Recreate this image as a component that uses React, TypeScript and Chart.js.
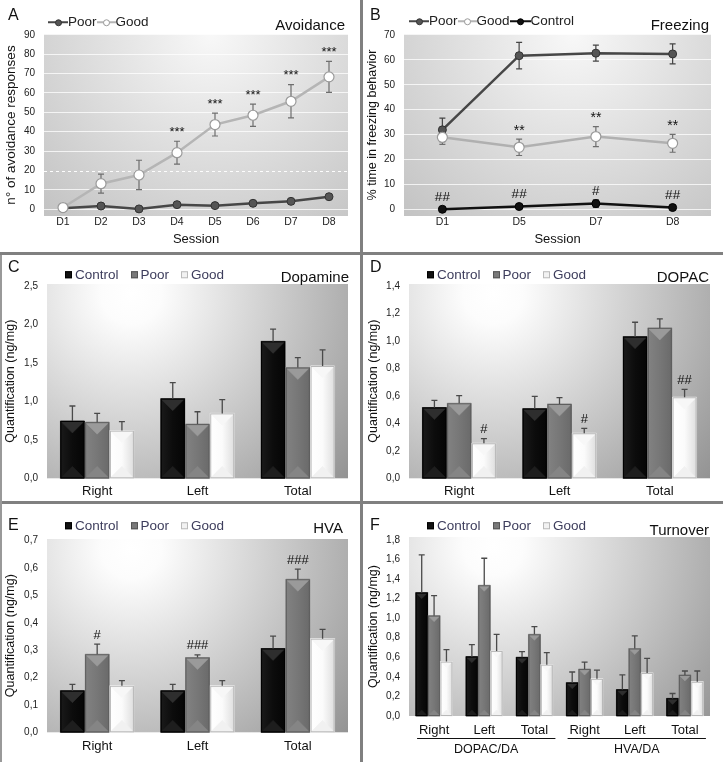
import React, { useEffect, useRef } from 'react';
import { Chart, registerables } from 'chart.js';

Chart.register(...registerables);

const FONT = '"Liberation Sans", Arial, Helvetica, sans-serif';
Chart.defaults.font.family = FONT;

// ---------- Panel A: Avoidance ----------
const avoidSessions = ['D1', 'D2', 'D3', 'D4', 'D5', 'D6', 'D7', 'D8'];
const avoidPoor = [0.5, 1.7, 0.2, 2.4, 1.9, 3.1, 4.1, 6.5];
const avoidPoorErr = [0.4, 0.6, 0.4, 0.7, 0.6, 0.8, 0.9, 1.0];
const avoidGood = [0.9, 13.2, 17.7, 29.2, 43.7, 48.5, 55.7, 68.3];
const avoidGoodErr = [0.6, 4.9, 7.6, 5.9, 5.9, 5.7, 8.6, 8.0];
const avoidGoodSig = ['', '', '', '***', '***', '***', '***', '***'];
const avoidTicks = [0, 10, 20, 30, 40, 50, 60, 70, 80, 90];
const avoidRefLine = 20;

// ---------- Panel B: Freezing ----------
const freezeSessions = ['D1', 'D5', 'D7', 'D8'];
const freezePoor = [31.9, 61.7, 62.7, 62.4];
const freezePoorErr = [4.7, 5.3, 3.2, 4.0];
const freezeGood = [28.9, 24.9, 29.2, 26.5];
const freezeGoodErr = [2.8, 3.3, 4.0, 3.6];
const freezeControl = [0, 1.1, 2.3, 0.7];
const freezeControlErr = [0.3, 0.5, 1.5, 0.4];
const freezeGoodSig = ['', '**', '**', '**'];
const freezeControlSig = ['##', '##', '#', '##'];
const freezeTicks = [0, 10, 20, 30, 40, 50, 60, 70];

// ---------- Bar panels ----------
const regions = ['Right', 'Left', 'Total'];

// C: Dopamine
const daControl = [0.745, 1.035, 1.78];
const daControlErr = [0.195, 0.21, 0.16];
const daPoor = [0.73, 0.705, 1.44];
const daPoorErr = [0.115, 0.16, 0.13];
const daGood = [0.62, 0.844, 1.46];
const daGoodErr = [0.116, 0.18, 0.21];
const daTicks = [0, 0.5, 1.0, 1.5, 2.0, 2.5];

// D: DOPAC
const dopacControl = [0.515, 0.507, 1.031];
const dopacControlErr = [0.053, 0.09, 0.105];
const dopacPoor = [0.546, 0.541, 1.095];
const dopacPoorErr = [0.056, 0.046, 0.065];
const dopacGood = [0.255, 0.328, 0.59];
const dopacGoodErr = [0.034, 0.036, 0.058];
const dopacGoodSig = ['#', '#', '##'];
const dopacTicks = [0, 0.2, 0.4, 0.6, 0.8, 1.0, 1.2, 1.4];

// E: HVA
const hvaControl = [0.152, 0.152, 0.306];
const hvaControlErr = [0.023, 0.023, 0.045];
const hvaPoor = [0.285, 0.273, 0.559];
const hvaPoorErr = [0.037, 0.01, 0.037];
const hvaGood = [0.17, 0.17, 0.342];
const hvaGoodErr = [0.019, 0.019, 0.034];
const hvaPoorSig = ['#', '###', '###'];
const hvaTicks = [0, 0.1, 0.2, 0.3, 0.4, 0.5, 0.6, 0.7];

// F: Turnover
const turnoverCats = ['Right', 'Left', 'Total', 'Right', 'Left', 'Total'];
const turnControl = [1.261, 0.607, 0.6, 0.34, 0.27, 0.18];
const turnControlErr = [0.386, 0.123, 0.058, 0.11, 0.15, 0.05];
const turnPoor = [1.026, 1.336, 0.835, 0.48, 0.69, 0.42];
const turnPoorErr = [0.205, 0.277, 0.079, 0.07, 0.13, 0.04];
const turnGood = [0.556, 0.665, 0.525, 0.38, 0.44, 0.35];
const turnGoodErr = [0.122, 0.17, 0.123, 0.09, 0.15, 0.11];
const turnoverGroups = ['DOPAC/DA', 'HVA/DA'];
const turnoverGroupSpans = [[0, 2], [3, 5]];
const turnTicks = [0, 0.2, 0.4, 0.6, 0.8, 1.0, 1.2, 1.4, 1.6, 1.8];

// ---------- Plugins ----------
const plotBgPlugin = {
  id: 'plotBg',
  beforeDraw(chart: any, _a: any, opts: any) {
    const { ctx, chartArea } = chart;
    if (!chartArea) return;
    const { left, top, right, bottom } = chartArea;
    const w = right - left;
    const h = bottom - top;
    const cx = left + opts.cx * w;
    const cy = top + opts.cy * h;
    const g = ctx.createRadialGradient(cx, cy, 0, cx, cy, opts.r * w);
    opts.stops.forEach((s: any) => g.addColorStop(s[0], s[1]));
    ctx.save();
    ctx.fillStyle = g;
    ctx.fillRect(left, top, w, h);
    ctx.restore();
  },
};

const refLinePlugin = {
  id: 'refLine',
  beforeDatasetsDraw(chart: any, _a: any, opts: any) {
    if (opts.value == null) return;
    const { ctx, chartArea } = chart;
    const y = Math.round(chart.scales.y.getPixelForValue(opts.value)) + 0.5;
    ctx.save();
    ctx.strokeStyle = 'rgba(255,255,255,0.95)';
    ctx.lineWidth = 1;
    ctx.setLineDash([3, 3]);
    ctx.beginPath();
    ctx.moveTo(chartArea.left, y);
    ctx.lineTo(chartArea.right, y);
    ctx.stroke();
    ctx.restore();
  },
};

function drawErrors(chart: any, opts: any) {
  const ctx = chart.ctx;
  const ys = chart.scales.y;
  chart.data.datasets.forEach((ds: any, i: number) => {
    if (!ds.errors) return;
    const meta = chart.getDatasetMeta(i);
    meta.data.forEach((el: any, j: number) => {
      const v = ds.data[j];
      const e = ds.errors[j];
      if (e == null) return;
      const x = el.x;
      const yTop = ys.getPixelForValue(v + e);
      const yBot = ys.getPixelForValue(opts.mode === 'both' ? v - e : v);
      ctx.save();
      ctx.strokeStyle = ds.errColor || '#555';
      ctx.lineWidth = opts.width;
      ctx.beginPath();
      ctx.moveTo(x, yBot);
      ctx.lineTo(x, yTop);
      ctx.moveTo(x - opts.cap, yTop);
      ctx.lineTo(x + opts.cap, yTop);
      if (opts.mode === 'both') {
        ctx.moveTo(x - opts.cap, yBot);
        ctx.lineTo(x + opts.cap, yBot);
      }
      ctx.stroke();
      ctx.restore();
    });
  });
}

const errPlugin = {
  id: 'errBars',
  beforeDatasetsDraw(chart: any, _a: any, opts: any) {
    if (opts.phase === 'before') drawErrors(chart, opts);
  },
  afterDatasetsDraw(chart: any, _a: any, opts: any) {
    if (opts.phase === 'after') drawErrors(chart, opts);
  },
};

const bevelPlugin = {
  id: 'bevel',
  afterDatasetsDraw(chart: any) {
    const ctx = chart.ctx;
    chart.data.datasets.forEach((ds: any, i: number) => {
      if (!ds.bevel) return;
      const meta = chart.getDatasetMeta(i);
      meta.data.forEach((el: any) => {
        const x = el.x;
        const width = el.width;
        const l = x - width / 2;
        const r = x + width / 2;
        const t = Math.min(el.y, el.base);
        const b = Math.max(el.y, el.base);
        const h = b - t;
        const d = Math.min(width / 2, h / 2);
        const c = ds.bevel;
        const poly = (pts: number[][], col: any) => {
          ctx.beginPath();
          ctx.moveTo(pts[0][0], pts[0][1]);
          for (let k = 1; k < pts.length; k++) ctx.lineTo(pts[k][0], pts[k][1]);
          ctx.closePath();
          ctx.fillStyle = col;
          ctx.fill();
          ctx.strokeStyle = col;
          ctx.lineWidth = 0.5;
          ctx.stroke();
        };
        const side = ctx.createLinearGradient(l, 0, r, 0);
        side.addColorStop(0, c.left);
        side.addColorStop(0.5, c.mid);
        side.addColorStop(1, c.right);
        ctx.save();
        poly([[l, t], [r, t], [r, b], [l, b]], side);
        poly([[l, t], [r, t], [x, t + d]], c.top);
        poly([[l, b], [r, b], [x, b - d]], c.bottom);
        ctx.strokeStyle = c.border;
        ctx.lineWidth = 1;
        ctx.strokeRect(l + 0.5, t + 0.5, width - 1, h - 1);
        ctx.restore();
      });
    });
  },
};

const sigPlugin = {
  id: 'sigMarks',
  afterDatasetsDraw(chart: any) {
    const ctx = chart.ctx;
    const ys = chart.scales.y;
    chart.data.datasets.forEach((ds: any, i: number) => {
      if (!ds.sig) return;
      const meta = chart.getDatasetMeta(i);
      meta.data.forEach((el: any, j: number) => {
        const txt = ds.sig[j];
        if (!txt) return;
        const extra = ds.sigAnchor === 'point' ? 0 : ds.errors ? ds.errors[j] : 0;
        const y = ys.getPixelForValue(ds.data[j] + extra) - ds.sigGap;
        ctx.save();
        ctx.font = `${ds.sigSize}px ${FONT}`;
        ctx.fillStyle = '#111';
        ctx.textAlign = 'center';
        ctx.textBaseline = 'alphabetic';
        ctx.fillText(txt, el.x, y);
        ctx.restore();
      });
    });
  },
};

const groupPlugin = {
  id: 'groupAxis',
  afterDraw(chart: any, _a: any, opts: any) {
    if (!opts.groups) return;
    const { ctx, chartArea } = chart;
    const xs = chart.scales.x;
    opts.groups.forEach((label: string, gi: number) => {
      const span = opts.spans[gi];
      const x0 = xs.getPixelForValue(span[0]) - opts.padL;
      const x1 = xs.getPixelForValue(span[1]) + opts.padR;
      const y = Math.round(chartArea.bottom + opts.lineOffset) + 0.5;
      ctx.save();
      ctx.strokeStyle = '#111';
      ctx.lineWidth = 1;
      ctx.beginPath();
      ctx.moveTo(x0, y);
      ctx.lineTo(x1, y);
      ctx.stroke();
      ctx.font = `12.5px ${FONT}`;
      ctx.fillStyle = '#111';
      ctx.textAlign = 'center';
      ctx.textBaseline = 'middle';
      ctx.fillText(label, (x0 + x1) / 2, chartArea.bottom + opts.textOffset);
      ctx.restore();
    });
  },
};

const lineBg = { cx: 0.55, cy: 0.0, r: 1.0, stops: [[0, '#f8f8f8'], [1, '#b6b6b6']] };
const barBg = { cx: 0.28, cy: 0.05, r: 1.0, stops: [[0, '#ffffff'], [0.1, '#fcfcfc'], [1, '#8c8c8c']] };

const bevelControl = { top: '#2e2e2e', left: '#1a1a1a', mid: '#0c0c0c', right: '#050505', bottom: '#1e1e1e', border: '#000' };
const bevelPoor = { top: '#9a9a9a', left: '#828282', mid: '#777777', right: '#6a6a6a', bottom: '#858585', border: '#5e5e5e' };
const bevelGood = { top: '#f7f7f7', left: '#ffffff', mid: '#fbfbfb', right: '#dedede', bottom: '#f1f1f1', border: '#b8b8b8' };

const fmtComma = (v: any) => Number(v).toFixed(1).replace('.', ',');

function lineConfig(o: any) {
  return {
    type: 'line',
    data: { labels: o.labels, datasets: o.datasets },
    plugins: [plotBgPlugin, refLinePlugin, errPlugin, sigPlugin],
    options: {
      animation: false,
      responsive: true,
      maintainAspectRatio: false,
      events: [],
      layout: { padding: { left: 0, top: o.padTop, right: o.padRight, bottom: 0 } },
      plugins: {
        legend: { display: false },
        tooltip: { enabled: false },
        plotBg: lineBg,
        refLine: { value: o.refLine },
        errBars: { phase: 'before', mode: 'both', cap: 3, width: 1.2 },
      },
      scales: {
        x: {
          type: 'category',
          offset: true,
          grid: { display: false, drawTicks: false },
          border: { display: false },
          ticks: { color: '#222', font: { size: 10.5 }, padding: 0, autoSkip: false, maxRotation: 0 },
          title: { display: true, text: 'Session', color: '#111', font: { size: 13 }, padding: { top: 0, bottom: 5 } },
          afterFit: (s: any) => { s.height = o.xHeight; },
        },
        y: {
          min: o.yMin,
          max: o.yMax,
          grid: {
            drawTicks: false,
            lineWidth: 1,
            color: (c: any) => (c.tick && c.tick.value === o.refLine ? 'rgba(0,0,0,0)' : 'rgba(255,255,255,0.75)'),
          },
          border: { display: false },
          ticks: { color: '#222', font: { size: 10 }, padding: 9 },
          afterBuildTicks: (s: any) => { s.ticks = o.ticks.map((v: number) => ({ value: v })); },
          afterFit: (s: any) => { s.width = o.yWidth; },
          title: { display: true, text: o.yTitle, color: '#111', font: { size: o.yTitleSize }, padding: { top: o.yTitlePad, bottom: 0 } },
        },
      },
    },
  };
}

function barConfig(o: any) {
  const mk = (label: string, data: number[], errors: number[], bevel: any, base: string, sig?: string[]) => ({
    label,
    data,
    errors,
    errColor: '#4a4a4a',
    bevel,
    backgroundColor: base,
    borderWidth: 0,
    categoryPercentage: 0.74,
    barPercentage: 0.97,
    sig,
    sigGap: 5.4,
    sigSize: 13,
  });
  return {
    type: 'bar',
    data: {
      labels: o.labels,
      datasets: [
        mk('Control', o.control, o.controlErr, bevelControl, '#0a0a0a', o.controlSig),
        mk('Poor', o.poor, o.poorErr, bevelPoor, '#777777', o.poorSig),
        mk('Good', o.good, o.goodErr, bevelGood, '#f5f5f5', o.goodSig),
      ],
    },
    plugins: [plotBgPlugin, bevelPlugin, errPlugin, sigPlugin, groupPlugin],
    options: {
      animation: false,
      responsive: true,
      maintainAspectRatio: false,
      events: [],
      layout: { padding: { left: 0, top: o.padTop, right: o.padRight, bottom: 0 } },
      plugins: {
        legend: { display: false },
        tooltip: { enabled: false },
        plotBg: barBg,
        errBars: { phase: 'after', mode: 'up', cap: 3, width: 1.3 },
        groupAxis: o.groupAxis || {},
      },
      scales: {
        x: {
          type: 'category',
          offset: true,
          grid: { display: false, drawTicks: false },
          border: { display: false },
          ticks: { color: '#111', font: { size: 13 }, padding: o.xLabelPad, autoSkip: false, maxRotation: 0 },
          afterFit: (s: any) => { s.height = o.xHeight; },
        },
        y: {
          min: 0,
          max: o.yMax,
          grid: { display: false, drawTicks: false },
          border: { display: false },
          ticks: { color: '#222', font: { size: 10 }, padding: 9, callback: fmtComma },
          afterBuildTicks: (s: any) => { s.ticks = o.ticks.map((v: number) => ({ value: v })); },
          afterFit: (s: any) => { s.width = o.yWidth; },
          title: { display: true, text: 'Quantification (ng/mg)', color: '#111', font: { size: 12.5 }, padding: { top: 3.5, bottom: 0 } },
        },
      },
    },
  };
}

const buildA = () =>
  lineConfig({
    labels: avoidSessions,
    datasets: [
      {
        label: 'Good', data: avoidGood, errors: avoidGoodErr, errColor: '#6e6e6e',
        borderColor: '#b5b5b5', borderWidth: 2.5, pointRadius: 5, pointBackgroundColor: '#ffffff',
        pointBorderColor: '#9a9a9a', pointBorderWidth: 1.2, tension: 0,
        sig: avoidGoodSig, sigGap: 5.5, sigSize: 13,
      },
      {
        label: 'Poor', data: avoidPoor, errors: avoidPoorErr, errColor: '#444',
        borderColor: '#474747', borderWidth: 2.5, pointRadius: 4, pointBackgroundColor: '#555555',
        pointBorderColor: '#333333', pointBorderWidth: 1, tension: 0,
      },
    ],
    yMin: -3.45, yMax: 90.4, ticks: avoidTicks, refLine: avoidRefLine,
    padTop: 34, padRight: 12, yWidth: 44, xHeight: 36,
    yTitle: 'n° of avoidance responses', yTitleSize: 13.5, yTitlePad: 3,
  });

const buildB = () =>
  lineConfig({
    labels: freezeSessions,
    datasets: [
      {
        label: 'Good', data: freezeGood, errors: freezeGoodErr, errColor: '#6e6e6e',
        borderColor: '#b0b0b0', borderWidth: 2.5, pointRadius: 5, pointBackgroundColor: '#ffffff',
        pointBorderColor: '#9a9a9a', pointBorderWidth: 1.2, tension: 0,
        sig: freezeGoodSig, sigGap: 4.5, sigSize: 14,
      },
      {
        label: 'Poor', data: freezePoor, errors: freezePoorErr, errColor: '#444',
        borderColor: '#474747', borderWidth: 2.5, pointRadius: 4, pointBackgroundColor: '#555555',
        pointBorderColor: '#333333', pointBorderWidth: 1, tension: 0,
      },
      {
        label: 'Control', data: freezeControl, errors: freezeControlErr, errColor: '#333',
        borderColor: '#111111', borderWidth: 2.5, pointRadius: 4, pointBackgroundColor: '#111111',
        pointBorderColor: '#000000', pointBorderWidth: 1, tension: 0,
        sig: freezeControlSig, sigAnchor: 'point', sigGap: 8.4, sigSize: 13.5,
      },
    ],
    yMin: -2.7, yMax: 70.4, ticks: freezeTicks, refLine: null,
    padTop: 34, padRight: 12, yWidth: 41, xHeight: 36,
    yTitle: '% time in freezing behavior', yTitleSize: 12.5, yTitlePad: 2,
  });

const buildC = () =>
  barConfig({
    labels: regions, control: daControl, controlErr: daControlErr, poor: daPoor, poorErr: daPoorErr,
    good: daGood, goodErr: daGoodErr, yMax: 2.526, ticks: daTicks,
    padTop: 29, padRight: 12, yWidth: 47, xHeight: 22.7, xLabelPad: 5.6,
  });

const buildD = () =>
  barConfig({
    labels: regions, control: dopacControl, controlErr: dopacControlErr, poor: dopacPoor, poorErr: dopacPoorErr,
    good: dopacGood, goodErr: dopacGoodErr, goodSig: dopacGoodSig, yMax: 1.4146, ticks: dopacTicks,
    padTop: 29, padRight: 13, yWidth: 46, xHeight: 22.7, xLabelPad: 5.6,
  });

const buildE = () =>
  barConfig({
    labels: regions, control: hvaControl, controlErr: hvaControlErr, poor: hvaPoor, poorErr: hvaPoorErr,
    good: hvaGood, goodErr: hvaGoodErr, poorSig: hvaPoorSig, yMax: 0.706, ticks: hvaTicks,
    padTop: 35, padRight: 12, yWidth: 47, xHeight: 29.7, xLabelPad: 6.6,
  });

const buildF = () =>
  barConfig({
    labels: turnoverCats, control: turnControl, controlErr: turnControlErr, poor: turnPoor, poorErr: turnPoorErr,
    good: turnGood, goodErr: turnGoodErr, yMax: 1.83, ticks: turnTicks,
    padTop: 33, padRight: 13, yWidth: 46, xHeight: 46, xLabelPad: 6.2,
    groupAxis: { groups: turnoverGroups, spans: turnoverGroupSpans, padL: 17, padR: 21, lineOffset: 22.3, textOffset: 34 },
  });

function ChartPanel({ left, top, width, height, build }: any) {
  const ref = useRef<HTMLCanvasElement | null>(null);
  useEffect(() => {
    if (!ref.current) return;
    const chart = new Chart(ref.current, build());
    return () => chart.destroy();
  }, []);
  return (
    <div style={{ position: 'absolute', left, top, width, height }}>
      <canvas ref={ref} />
    </div>
  );
}

function Txt({ x, y, size, right, color, children }: any) {
  return (
    <div
      style={{
        position: 'absolute', left: x, top: y, fontSize: size, lineHeight: 1, whiteSpace: 'nowrap',
        color: color || '#111', transform: right ? 'translate(-100%, -50%)' : 'translateY(-50%)',
      }}
    >
      {children}
    </div>
  );
}

function LineMark({ w, line, fill, stroke, r }: any) {
  return (
    <span style={{ display: 'inline-block', position: 'relative', width: w, height: 12, verticalAlign: 'middle' }}>
      <span style={{ position: 'absolute', left: 0, right: 0, top: 5, height: 2.5, background: line }} />
      <span
        style={{
          position: 'absolute', left: w / 2 - r, top: 6.25 - r, width: 2 * r, height: 2 * r, borderRadius: '50%',
          background: fill, border: `1px solid ${stroke}`, boxSizing: 'border-box',
        }}
      />
    </span>
  );
}

function LineLegend({ x, y, items }: any) {
  return (
    <div style={{ position: 'absolute', left: x, top: y, transform: 'translateY(-50%)', display: 'flex', alignItems: 'center', fontSize: 13.5, lineHeight: 1, color: '#222', whiteSpace: 'nowrap' }}>
      {items.map((it: any) => (
        <React.Fragment key={it.label}>
          <LineMark w={it.w} line={it.line} fill={it.fill} stroke={it.stroke} r={it.r} />
          <span>{it.label}</span>
        </React.Fragment>
      ))}
    </div>
  );
}

const barLegendItems = [
  { label: 'Control', fill: '#111', stroke: '#000' },
  { label: 'Poor', fill: '#7a7a7a', stroke: '#555' },
  { label: 'Good', fill: '#f2f2f2', stroke: '#bbb' },
];

function BarLegend({ x, y }: any) {
  return (
    <div style={{ position: 'absolute', left: x, top: y, transform: 'translateY(-50%)', display: 'flex', alignItems: 'center', fontSize: 13.5, lineHeight: 1, color: '#3d3d5c', whiteSpace: 'nowrap' }}>
      {barLegendItems.map((it, i) => (
        <span key={it.label} style={{ display: 'flex', alignItems: 'center', marginLeft: i === 0 ? 0 : 12 }}>
          <span style={{ display: 'inline-block', width: 7, height: 7, background: it.fill, border: `1px solid ${it.stroke}`, boxSizing: 'border-box', marginRight: 3 }} />
          <span>{it.label}</span>
        </span>
      ))}
    </div>
  );
}

const poorItem = { label: 'Poor', w: 20, line: '#474747', fill: '#555', stroke: '#333', r: 3.5 };
const goodItem = { label: 'Good', w: 19, line: '#b5b5b5', fill: '#fff', stroke: '#999', r: 3.5 };
const controlItem = { label: 'Control', w: 21, line: '#111', fill: '#111', stroke: '#000', r: 3.5 };

export default function App() {
  const divider = '#808080';
  return (
    <div style={{ position: 'absolute', left: 0, top: 0, width: 723, height: 762, background: '#fff', overflow: 'hidden', fontFamily: FONT }}>
      <ChartPanel left={0} top={0} width={360} height={252} build={buildA} />
      <ChartPanel left={363} top={0} width={360} height={252} build={buildB} />
      <ChartPanel left={0} top={255} width={360} height={246} build={buildC} />
      <ChartPanel left={363} top={255} width={360} height={246} build={buildD} />
      <ChartPanel left={0} top={504} width={360} height={258} build={buildE} />
      <ChartPanel left={363} top={504} width={360} height={258} build={buildF} />

      <div style={{ position: 'absolute', left: 360, top: 0, width: 3, height: 762, background: divider }} />
      <div style={{ position: 'absolute', left: 0, top: 252, width: 723, height: 3, background: divider }} />
      <div style={{ position: 'absolute', left: 0, top: 501, width: 723, height: 3, background: divider }} />
      <div style={{ position: 'absolute', left: 0, top: 255, width: 1.5, height: 507, background: '#999' }} />

      <Txt x={8} y={15} size={16}>A</Txt>
      <Txt x={370} y={15} size={16}>B</Txt>
      <Txt x={8} y={267} size={16}>C</Txt>
      <Txt x={370} y={267} size={16}>D</Txt>
      <Txt x={8} y={525} size={16}>E</Txt>
      <Txt x={370} y={525} size={16}>F</Txt>

      <Txt x={345} y={24} size={15} right>Avoidance</Txt>
      <Txt x={709} y={24} size={15} right>Freezing</Txt>
      <Txt x={349} y={276} size={15} right>Dopamine</Txt>
      <Txt x={709} y={276} size={15} right>DOPAC</Txt>
      <Txt x={343} y={527} size={15} right>HVA</Txt>
      <Txt x={709} y={529} size={15} right>Turnover</Txt>

      <LineLegend x={48} y={22} items={[poorItem, goodItem]} />
      <LineLegend x={409} y={21} items={[poorItem, goodItem, controlItem]} />
      <BarLegend x={65} y={275} />
      <BarLegend x={427} y={275} />
      <BarLegend x={65} y={526} />
      <BarLegend x={427} y={526} />
    </div>
  );
}
